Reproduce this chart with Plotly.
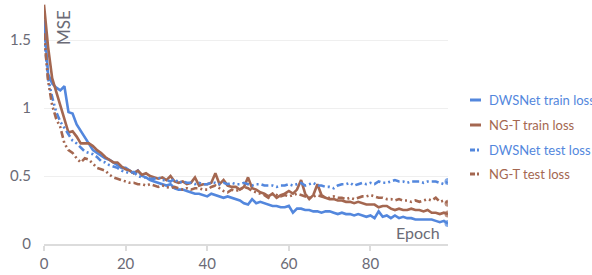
import plotly.graph_objects as go

epochs = list(range(100))

dws_train = [1.65, 1.25, 1.18, 1.15, 1.13, 1.16, 0.97, 0.96, 0.88, 0.83,
             0.78, 0.74, 0.69, 0.67, 0.65, 0.63, 0.62, 0.60, 0.58, 0.56,
             0.56, 0.54, 0.52, 0.54, 0.50, 0.49, 0.47, 0.46, 0.45, 0.44,
             0.43, 0.44, 0.41, 0.40, 0.40, 0.39, 0.38, 0.37, 0.37, 0.36,
             0.35, 0.37, 0.36, 0.35, 0.34, 0.35, 0.34, 0.33, 0.32, 0.30,
             0.29, 0.33, 0.30, 0.31, 0.30, 0.29, 0.28, 0.28, 0.27, 0.27,
             0.28, 0.23, 0.26, 0.26, 0.25, 0.25, 0.24, 0.24, 0.23, 0.24,
             0.24, 0.23, 0.22, 0.23, 0.22, 0.22, 0.21, 0.22, 0.21, 0.20,
             0.21, 0.19, 0.24, 0.20, 0.21, 0.19, 0.21, 0.19, 0.20, 0.19,
             0.19, 0.18, 0.18, 0.18, 0.18, 0.18, 0.17, 0.16, 0.17, 0.15]

ngt_train = [1.76, 1.45, 1.22, 1.12, 1.02, 0.93, 0.82, 0.83, 0.79, 0.74,
             0.74, 0.74, 0.72, 0.69, 0.67, 0.64, 0.62, 0.60, 0.60, 0.57,
             0.55, 0.54, 0.52, 0.54, 0.51, 0.52, 0.50, 0.49, 0.48, 0.49,
             0.47, 0.50, 0.46, 0.45, 0.46, 0.44, 0.45, 0.49, 0.43, 0.44,
             0.44, 0.45, 0.52, 0.44, 0.47, 0.43, 0.42, 0.42, 0.40, 0.42,
             0.49, 0.41, 0.40, 0.38, 0.37, 0.35, 0.37, 0.34, 0.36, 0.37,
             0.39, 0.37, 0.40, 0.47, 0.37, 0.33, 0.36, 0.44, 0.36, 0.34,
             0.33, 0.33, 0.32, 0.32, 0.31, 0.31, 0.30, 0.31, 0.30, 0.29,
             0.29, 0.29, 0.27, 0.28, 0.28, 0.26, 0.25, 0.26, 0.25, 0.25,
             0.26, 0.25, 0.25, 0.24, 0.25, 0.23, 0.23, 0.22, 0.23, 0.22]

dws_test = [1.54, 1.22, 1.08, 0.97, 0.90, 0.85, 0.80, 0.76, 0.74, 0.71,
            0.68, 0.67, 0.66, 0.64, 0.61, 0.60, 0.58, 0.57, 0.56, 0.54,
            0.53, 0.52, 0.53, 0.50, 0.49, 0.49, 0.48, 0.48, 0.49, 0.47,
            0.47, 0.46, 0.48, 0.45, 0.46, 0.45, 0.45, 0.44, 0.45, 0.44,
            0.44, 0.45, 0.45, 0.44, 0.45, 0.44, 0.45, 0.44, 0.44, 0.45,
            0.44, 0.43, 0.44, 0.44, 0.43, 0.43, 0.43, 0.42, 0.43, 0.43,
            0.44, 0.43, 0.44, 0.45, 0.43, 0.44, 0.45, 0.43, 0.43, 0.42,
            0.42, 0.41, 0.43, 0.44, 0.44, 0.45, 0.43, 0.44, 0.45, 0.44,
            0.45, 0.44, 0.46, 0.45, 0.45, 0.46, 0.47, 0.46, 0.46, 0.45,
            0.46, 0.46, 0.46, 0.45, 0.46, 0.46, 0.46, 0.45, 0.44, 0.46]

ngt_test = [1.55, 1.20, 1.02, 0.92, 0.86, 0.74, 0.69, 0.67, 0.63, 0.60,
            0.63, 0.62, 0.59, 0.56, 0.55, 0.54, 0.51, 0.49, 0.48, 0.47,
            0.46, 0.45, 0.45, 0.44, 0.44, 0.43, 0.44, 0.43, 0.42, 0.43,
            0.42, 0.41, 0.42, 0.41, 0.40, 0.41, 0.40, 0.41, 0.41, 0.40,
            0.40, 0.42, 0.43, 0.41, 0.39, 0.38, 0.40, 0.39, 0.40, 0.42,
            0.41, 0.39, 0.38, 0.37, 0.36, 0.34, 0.37, 0.36, 0.35, 0.36,
            0.35, 0.36, 0.37, 0.36, 0.35, 0.34, 0.35, 0.36, 0.35, 0.34,
            0.34, 0.35, 0.34, 0.34, 0.33, 0.34, 0.33, 0.34, 0.35, 0.35,
            0.36, 0.35, 0.34, 0.34, 0.33, 0.33, 0.32, 0.33, 0.32, 0.32,
            0.31, 0.32, 0.31, 0.32, 0.33, 0.32, 0.34, 0.31, 0.32, 0.30]

series_names = ["DWSNet train loss", "NG-T train loss", "DWSNet test loss", "NG-T test loss"]
x_ticks = [0, 20, 40, 60, 80]
y_ticks = [0, 0.5, 1, 1.5]
y_tick_text = ["0", "0.5", "1", "1.5"]

BLUE = "#5387DD"
BROWN = "#A46750"
GRAY = "#6b6b76"
FONT = "Lato"
DASHDOT = "7px,3px,2px,3px,2px,3px"

series = [
    (dws_train, BLUE, "solid"),
    (ngt_train, BROWN, "solid"),
    (dws_test, BLUE, DASHDOT),
    (ngt_test, BROWN, DASHDOT),
]

fig = go.Figure()
for (vals, color, dash), name in zip(series, series_names):
    sizes = [0] * (len(vals) - 1) + [7]
    fig.add_trace(go.Scatter(
        x=epochs, y=vals, name=name, mode="lines+markers",
        line=dict(color=color, width=2.6, dash=dash),
        marker=dict(size=sizes, color=color, line=dict(width=0)),
        showlegend=False,
    ))

L, R, T, B = 44, 144, 2, 31
W, H = 592, 275
pw = W - L - R
ph = H - T - B

def px_x(p):
    return (p - L) / pw

def px_y(p):
    return (H - B - p) / ph

shapes = []
annotations = []
leg_y = [100, 125, 150, 174]
for (vals, color, dash), name, yy in zip(series, series_names, leg_y):
    shapes.append(dict(type="line", xref="paper", yref="paper",
                       x0=px_x(470), x1=px_x(481), y0=px_y(yy), y1=px_y(yy),
                       line=dict(color=color, width=3,
                                 dash="solid" if dash == "solid" else "5px,2px,2px,2px,2px,2px")))
    annotations.append(dict(xref="paper", yref="paper", x=px_x(487), y=px_y(yy),
                            xanchor="left", yanchor="middle", showarrow=False,
                            text=name, font=dict(family=FONT, size=13, color=color)))

annotations.append(dict(xref="paper", yref="paper", x=px_x(51), y=px_y(8),
                        xanchor="left", yanchor="top", showarrow=False, textangle=-90,
                        text="MSE", font=dict(family=FONT, size=17, color=GRAY)))
annotations.append(dict(xref="paper", yref="paper", x=px_x(442), y=px_y(232),
                        xanchor="right", yanchor="middle", showarrow=False,
                        text="Epoch", font=dict(family=FONT, size=16, color=GRAY)))

fig.update_layout(
    width=W, height=H,
    margin=dict(l=L, r=R, t=T, b=B),
    paper_bgcolor="white", plot_bgcolor="white",
    font=dict(family=FONT, size=15, color=GRAY),
    shapes=shapes, annotations=annotations,
    xaxis=dict(range=[0, 99], tickvals=x_ticks, showgrid=False, zeroline=False,
               showline=True, linecolor="#dcdcdc", linewidth=1.5,
               ticks="outside", ticklen=5, tickcolor="#dcdcdc", tickwidth=1.5,
               tickfont=dict(family=FONT, size=15, color=GRAY)),
    yaxis=dict(range=[0, 1.78], tickvals=y_ticks, ticktext=y_tick_text,
               showgrid=True, gridcolor="#efefef", gridwidth=1, zeroline=False,
               showline=False, ticks="", ticklabelstandoff=12,
               tickfont=dict(family=FONT, size=15, color=GRAY)),
    showlegend=False,
)

fig.write_html("out.html", config={"displayModeBar": False},
               post_script="document.body.style.margin='0';document.body.style.padding='0';")
